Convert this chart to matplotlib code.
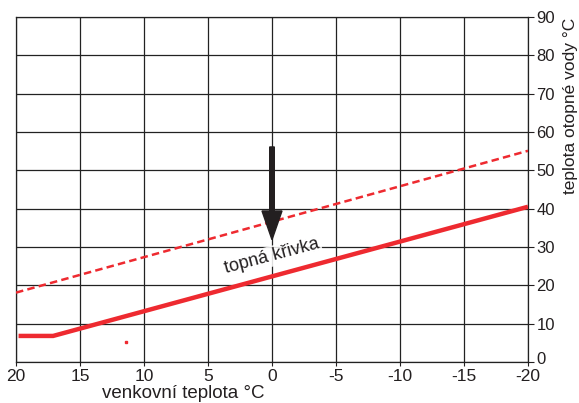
import matplotlib
matplotlib.use("Agg")
import matplotlib.pyplot as plt
from matplotlib.transforms import ScaledTranslation

plt.rcParams["font.family"] = ["Liberation Sans", "DejaVu Sans"]
plt.rcParams["axes.unicode_minus"] = False

# values
x_ticks = [20, 15, 10, 5, 0, -5, -10, -15, -20]
y_ticks = [0, 10, 20, 30, 40, 50, 60, 70, 80, 90]

curve_x = [19.8, 17.1, -20]
curve_y = [6.8, 6.8, 40.5]

dashed_x = [20, -20]
dashed_y = [18.1, 55.1]

arrow_x = 0
arrow_top = 56.1
arrow_tip = 31.9

dot_x, dot_y = 11.4, 5.3

RED = "#ee2a30"
INK = "#231f20"

fig = plt.figure(figsize=(5.79, 4.03), dpi=100)
ax = fig.add_axes([16 / 579, 41 / 403, 512 / 579, 345 / 403])

ax.set_xlim(20, -20)
ax.set_ylim(0, 90)
ax.set_xticks(x_ticks)
ax.set_yticks(y_ticks)
ax.set_xticklabels([str(v) for v in x_ticks])
ax.yaxis.tick_right()
ax.tick_params(axis="y", direction="out", length=4, width=0.8, pad=2,
               labelsize=12, colors=INK)
ax.tick_params(axis="x", direction="out", length=3, width=0.8, pad=2,
               labelsize=12.5, colors=INK)
ax.grid(True, color="#222222", linewidth=0.9)
ax.set_axisbelow(True)
for s in ax.spines.values():
    s.set_color("#222222")
    s.set_linewidth(0.9)

# the "0" on the right sits a little higher, clear of "-20"
zero = ax.yaxis.get_major_ticks()[0].label2
zero.set_transform(zero.get_transform()
                   + ScaledTranslation(0, 3 / 72, fig.dpi_scale_trans))

ax.plot(dashed_x, dashed_y, color=RED, linewidth=1.8, linestyle=(0, (3, 1.7)),
        solid_capstyle="butt", zorder=3)
ax.plot(curve_x, curve_y, color=RED, linewidth=3.2, solid_joinstyle="miter",
        solid_capstyle="butt", zorder=3)
ax.plot([dot_x], [dot_y], marker="s", markersize=1.5, color=RED, zorder=3)

ax.arrow(arrow_x, arrow_top, 0, arrow_tip - arrow_top, width=0.36,
         head_width=1.56, head_length=7.5, length_includes_head=True,
         color=INK, zorder=4)

ax.text(0, 27.6, "topná křivka", rotation=15, rotation_mode="anchor",
        ha="center", va="center", fontsize=13, color=INK, zorder=5,
        bbox=dict(boxstyle="square,pad=0.1", facecolor="white",
                  edgecolor="none", alpha=0.85))

fig.text(183 / 579, 1 - 393 / 403, "venkovní teplota °C", ha="center",
         va="center", fontsize=13.5, color=INK)
fig.text(571 / 579, 1 - 106 / 403, "teplota otopné vody °C", ha="center",
         va="center", rotation=90, fontsize=12.5, color=INK)

fig.savefig("out.png", dpi=100)
